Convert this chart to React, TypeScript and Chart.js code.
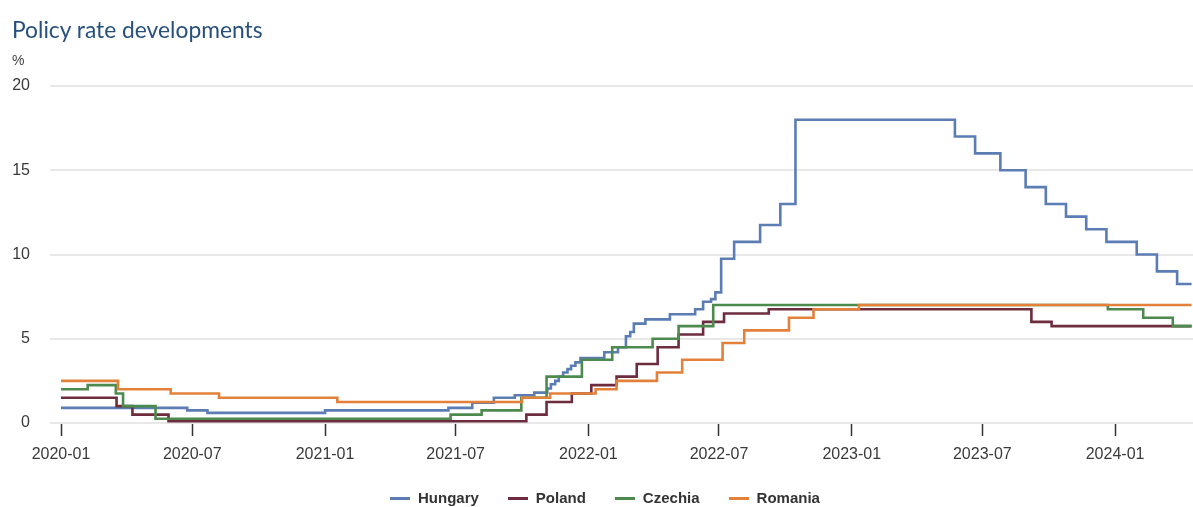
import React, { useEffect, useRef } from 'react';
import { Chart, registerables } from 'chart.js';

Chart.register(...registerables);

// ---- Data (step changes: date from which the rate applies, rate in %) ----
const hungaryDates = [
  '2020-01-01', '2020-06-24', '2020-07-22', '2021-01-01', '2021-06-21', '2021-07-24',
  '2021-08-23', '2021-09-21', '2021-10-18', '2021-11-05', '2021-11-10', '2021-11-16',
  '2021-11-21', '2021-11-27', '2021-12-03', '2021-12-08', '2021-12-14', '2021-12-21',
  '2022-01-23', '2022-02-11', '2022-02-22', '2022-02-28', '2022-03-05', '2022-03-21',
  '2022-04-24', '2022-05-29', '2022-06-09', '2022-06-20', '2022-06-26', '2022-07-04',
  '2022-07-22', '2022-08-27', '2022-09-24', '2022-10-15', '2023-05-24', '2023-06-21',
  '2023-07-26', '2023-08-30', '2023-09-27', '2023-10-25', '2023-11-22', '2023-12-20',
  '2024-01-31', '2024-02-28', '2024-03-27', '2024-04-16',
];
const hungaryValues = [
  0.9, 0.75, 0.6, 0.75, 0.9, 1.2,
  1.5, 1.65, 1.8, 2.05, 2.3, 2.5,
  2.75, 3.0, 3.2, 3.4, 3.6, 3.85,
  4.2, 4.5, 5.15, 5.4, 5.9, 6.15,
  6.45, 6.75, 7.2, 7.35, 7.75, 9.75,
  10.75, 11.75, 13.0, 18.0, 17.0, 16.0,
  15.0, 14.0, 13.0, 12.25, 11.5, 10.75,
  10.0, 9.0, 8.25, 8.25,
];

const polandDates = [
  '2020-01-01', '2020-03-18', '2020-04-09', '2020-05-29', '2021-10-07', '2021-11-04',
  '2021-12-09', '2022-01-05', '2022-02-09', '2022-03-09', '2022-04-07', '2022-05-06',
  '2022-06-09', '2022-07-08', '2022-09-08', '2023-09-07', '2023-10-05', '2024-04-16',
];
const polandValues = [
  1.5, 1.0, 0.5, 0.1, 0.5, 1.25,
  1.75, 2.25, 2.75, 3.5, 4.5, 5.25,
  6.0, 6.5, 6.75, 6.0, 5.75, 5.75,
];

const czechiaDates = [
  '2020-01-01', '2020-02-07', '2020-03-17', '2020-03-27', '2020-05-11', '2021-06-24',
  '2021-08-06', '2021-09-30', '2021-11-04', '2021-12-23', '2022-02-03', '2022-03-31',
  '2022-05-06', '2022-06-23', '2023-12-22', '2024-02-09', '2024-03-21', '2024-04-16',
];
const czechiaValues = [
  2.0, 2.25, 1.75, 1.0, 0.25, 0.5,
  0.75, 1.5, 2.75, 3.75, 4.5, 5.0,
  5.75, 7.0, 6.75, 6.25, 5.75, 5.75,
];

const romaniaDates = [
  '2020-01-01', '2020-03-20', '2020-06-01', '2020-08-07', '2021-01-18', '2021-10-01',
  '2021-11-09', '2022-01-11', '2022-02-09', '2022-04-06', '2022-05-11', '2022-07-06',
  '2022-08-05', '2022-10-06', '2022-11-09', '2023-01-11', '2024-04-16',
];
const romaniaValues = [
  2.5, 2.0, 1.75, 1.5, 1.25, 1.5,
  1.75, 2.0, 2.5, 3.0, 3.75, 4.75,
  5.5, 6.25, 6.75, 7.0, 7.0,
];

const seriesNames = ['Hungary', 'Poland', 'Czechia', 'Romania'];
const seriesColors = ['#5b7db3', '#6e2c3f', '#4c8a4d', '#e3813b'];

const xTickLabels = [
  '2020-01', '2020-07', '2021-01', '2021-07', '2022-01',
  '2022-07', '2023-01', '2023-07', '2024-01',
];
const xMinDate = '2020-01-01';
const xMaxDate = '2024-04-18';
const yMin = 0;
const yMax = 20;
const yStep = 5;

const titleText = 'Policy rate developments';
const unitText = '%';

const toTime = (d: string) => Date.parse(d.length === 7 ? d + '-01T00:00:00Z' : d + 'T00:00:00Z');

const pointsOf = (dates: string[], values: number[]) =>
  dates.map((d, i) => ({ x: toTime(d), y: values[i] }));

const allDates = [hungaryDates, polandDates, czechiaDates, romaniaDates];
const allValues = [hungaryValues, polandValues, czechiaValues, romaniaValues];

const tickFont = { family: "'Liberation Sans', Arial, sans-serif", size: 16 };

export default function App() {
  const canvasRef = useRef<HTMLCanvasElement | null>(null);

  useEffect(() => {
    if (!canvasRef.current) return;
    const chart = new Chart(canvasRef.current, {
      type: 'line',
      data: {
        datasets: seriesNames.map((name, i) => ({
          label: name,
          data: pointsOf(allDates[i], allValues[i]),
          borderColor: seriesColors[i],
          backgroundColor: seriesColors[i],
          borderWidth: 2.6,
          pointRadius: 0,
          pointHoverRadius: 0,
          stepped: true,
          tension: 0,
          fill: false,
          order: seriesNames.length - 1 - i,
        })),
      },
      options: {
        animation: false,
        responsive: false,
        devicePixelRatio: 1,
        parsing: false as any,
        layout: { padding: { left: 0, right: 0, top: 86, bottom: 44 } },
        plugins: {
          legend: { display: false },
          tooltip: { enabled: false },
          title: { display: false },
        },
        scales: {
          x: {
            type: 'linear',
            min: toTime(xMinDate),
            max: toTime(xMaxDate),
            afterBuildTicks: (axis: any) => {
              axis.ticks = xTickLabels.map((l) => ({ value: toTime(l) }));
            },
            afterFit: (axis: any) => {
              axis.height = 40;
            },
            ticks: {
              autoSkip: false,
              maxRotation: 0,
              padding: 9,
              color: '#3a3a3a',
              font: tickFont,
              callback: (v: any) => {
                const d = new Date(Number(v));
                const m = d.getUTCMonth() + 1;
                return d.getUTCFullYear() + '-' + (m < 10 ? '0' + m : '' + m);
              },
            },
            grid: {
              display: true,
              drawOnChartArea: false,
              drawTicks: true,
              tickLength: 13,
              tickColor: '#333333',
              tickWidth: 1.5,
            },
            border: { display: false },
          },
          y: {
            type: 'linear',
            min: yMin,
            max: yMax,
            afterFit: (axis: any) => {
              axis.width = 61;
            },
            ticks: {
              stepSize: yStep,
              padding: 20,
              color: '#3a3a3a',
              font: tickFont,
            },
            grid: {
              color: '#e8e8e8',
              lineWidth: 2,
              tickLength: 11,
            },
            border: { display: false },
          },
        },
      },
    });
    return () => chart.destroy();
  }, []);

  return (
    <div style={{ position: 'absolute', left: 0, top: 0, width: 1193, height: 507, background: '#fff', overflow: 'hidden' }}>
      <canvas ref={canvasRef} width={1193} height={507} style={{ position: 'absolute', left: 0, top: 0, width: 1193, height: 507 }} />
      <div
        style={{
          position: 'absolute', left: 12, top: 18, fontFamily: 'Lato, sans-serif', fontSize: 22.8,
          lineHeight: '22px', color: '#27507e', whiteSpace: 'nowrap',
        }}
      >
        {titleText}
      </div>
      <div
        style={{
          position: 'absolute', left: 12, top: 52, fontFamily: "'Liberation Sans', Arial, sans-serif",
          fontSize: 14, lineHeight: '16px', color: '#444', whiteSpace: 'nowrap',
        }}
      >
        {unitText}
      </div>
      <div
        style={{
          position: 'absolute', left: 390, top: 489, display: 'flex', alignItems: 'center',
          gap: 29, whiteSpace: 'nowrap',
        }}
      >
        {seriesNames.map((name, i) => (
          <div key={name} style={{ display: 'flex', alignItems: 'center' }}>
            <span style={{ display: 'inline-block', width: 20, height: 3, background: seriesColors[i], marginRight: 8 }} />
            <span
              style={{
                fontFamily: "'Liberation Sans', Arial, sans-serif", fontWeight: 'bold', fontSize: 15,
                lineHeight: '18px', color: '#333',
              }}
            >
              {name}
            </span>
          </div>
        ))}
      </div>
    </div>
  );
}
